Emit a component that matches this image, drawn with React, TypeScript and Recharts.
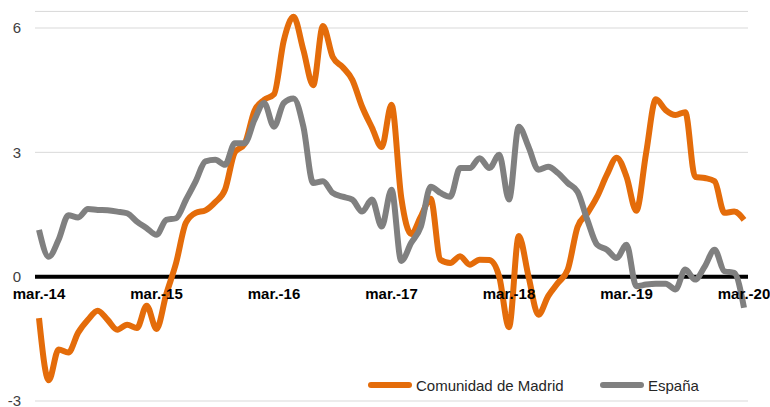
import React from "react";
import { LineChart, Line, XAxis, YAxis, CartesianGrid, ReferenceLine, Legend } from "recharts";

const madrid = [
  -1.0, -2.5, -1.76, -1.83, -1.35, -1.04, -0.82, -1.04, -1.28, -1.16, -1.24, -0.7, -1.26,
  -0.42, 0.33, 1.3, 1.54, 1.6, 1.8, 2.1, 3.0, 3.2, 4.0, 4.27, 4.4,
  5.7, 6.27, 5.47, 4.62, 6.05, 5.3, 5.06, 4.75, 4.1, 3.6, 3.13, 4.15,
  1.9, 1.03, 1.45, 1.88, 0.41, 0.33, 0.49, 0.29, 0.41, 0.4, 0.0, -1.22,
  0.98, 0.0, -0.92, -0.47, -0.15, 0.17, 1.2, 1.53, 1.93, 2.46, 2.87, 2.41,
  1.59, 2.98, 4.28, 4.02, 3.9, 3.97, 2.41, 2.38, 2.3, 1.54, 1.57, 1.37,
];

const espana = [
  1.13, 0.48, 0.89, 1.48, 1.43, 1.63, 1.61, 1.6, 1.57, 1.53, 1.33, 1.17, 1.01,
  1.37, 1.41, 1.85, 2.3, 2.78, 2.82, 2.7, 3.22, 3.22, 3.78, 4.19, 3.62,
  4.19, 4.3, 3.62, 2.26, 2.3, 2.02, 1.93, 1.86, 1.57, 1.86, 1.21, 2.1,
  0.38, 0.81, 1.21, 2.17, 2.02, 1.93, 2.62, 2.62, 2.86, 2.62, 2.94, 1.86,
  3.62, 3.13, 2.58, 2.65, 2.5, 2.26, 2.05, 1.37, 0.77, 0.65, 0.45, 0.77,
  -0.23, -0.19, -0.17, -0.17, -0.31, 0.17, -0.07, 0.25, 0.65, 0.13, 0.09, -0.75,
];

const tickIndex = [0, 12, 24, 36, 48, 60, 72];
const tickLabels = ["mar.-14", "mar.-15", "mar.-16", "mar.-17", "mar.-18", "mar.-19", "mar.-20"];
const yTicks = [-3, 0, 3, 6];
const seriesNames = ["Comunidad de Madrid", "España"];
const seriesColors = ["#E46C0A", "#808080"];

const data = madrid.map((v, i) => ({ idx: i, madrid: v, espana: espana[i] }));

const W = 770;
const H = 407;
const X_AXIS_H = 24;
const CHART_H = H + X_AXIS_H;
const Y_MIN = -3;
const Y_MAX = 6.4;
const TICK_TOP_Y = 28;
const BOTTOM_Y = 401;
const UNIT = (BOTTOM_Y - TICK_TOP_Y) / 9;
const TOP_Y = TICK_TOP_Y - (Y_MAX - 6) * UNIT;
const M = { top: TOP_Y, right: 22, bottom: CHART_H - BOTTOM_Y - X_AXIS_H, left: 0 };
const ZERO_Y = BOTTOM_Y - 3 * UNIT;
const FONT = '"Liberation Sans", Arial, sans-serif';

const XTick = (props: any) => {
  const { x, payload } = props;
  const k = tickIndex.indexOf(payload.value);
  return (
    <text x={x} y={ZERO_Y + 22} textAnchor="middle" fontWeight="bold" fontSize={15} fill="#000" fontFamily={FONT}>
      {k >= 0 ? tickLabels[k] : ""}
    </text>
  );
};

const LegendContent = () => (
  <div style={{ position: "relative", width: W, height: 20, fontFamily: FONT, fontSize: 15, color: "#262626" }}>
    {seriesNames.map((n, i) => (
      <div
        key={n}
        style={{ position: "absolute", left: i === 0 ? 368 : 600, top: 0, height: 20, display: "flex", alignItems: "center", whiteSpace: "nowrap" }}
      >
        <svg width={44} height={8} style={{ marginRight: 4 }}>
          <line x1={3} y1={4} x2={41} y2={4} stroke={seriesColors[i]} strokeWidth={6} strokeLinecap="round" />
        </svg>
        <span>{n}</span>
      </div>
    ))}
  </div>
);

export default function App() {
  return (
    <div style={{ position: "absolute", left: 0, top: 0, width: W, height: H, overflow: "hidden", background: "#fff", fontFamily: FONT }}>
      <LineChart width={W} height={CHART_H} data={data} margin={M} style={{ fontFamily: FONT }}>
        <CartesianGrid vertical={false} stroke="#d9d9d9" strokeWidth={1} />
        <XAxis
          dataKey="idx"
          type="number"
          domain={[0, 72]}
          ticks={tickIndex}
          padding={{ left: 4, right: 4 }}
          height={X_AXIS_H}
          axisLine={false}
          tickLine={false}
          tick={<XTick />}
          interval={0}
        />
        <YAxis
          domain={[Y_MIN, Y_MAX]}
          ticks={yTicks}
          width={35}
          axisLine={false}
          tickLine={false}
          tickSize={0}
          tickMargin={14}
          interval={0}
          tick={{ fill: "#404040", fontSize: 15, fontFamily: FONT }}
        />
        <ReferenceLine y={0} stroke="#000" strokeWidth={4} />
        <Line
          type="monotone"
          dataKey="madrid"
          name={seriesNames[0]}
          stroke={seriesColors[0]}
          strokeWidth={6}
          dot={false}
          isAnimationActive={false}
        />
        <Line
          type="monotone"
          dataKey="espana"
          name={seriesNames[1]}
          stroke={seriesColors[1]}
          strokeWidth={6}
          dot={false}
          isAnimationActive={false}
        />
        <Legend
          layout="horizontal"
          verticalAlign="middle"
          content={<LegendContent />}
          wrapperStyle={{ position: "absolute", left: 0, top: 375, width: W, height: 20 }}
        />
      </LineChart>
    </div>
  );
}
